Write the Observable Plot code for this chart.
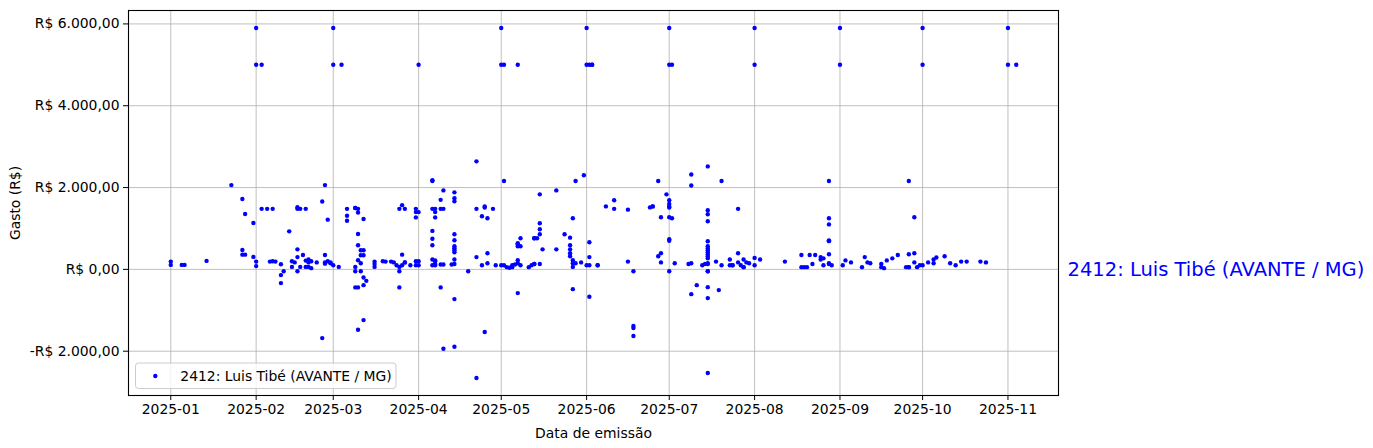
<!DOCTYPE html>
<html>
<head>
<meta charset="utf-8">
<script src="https://cdn.jsdelivr.net/npm/d3@7"></script>
<script src="https://cdn.jsdelivr.net/npm/@observablehq/plot@0.6"></script>
<style>
  html, body { margin: 0; padding: 0; background: white; }
  #chart { width: 1373px; height: 448px; }
</style>
</head>
<body>
<div id="chart"></div>
<script>
// ---- Data ----
const seriesLabel = "2412: Luis Tibé (AVANTE / MG)";
const xTitle = "Data de emissão";
const yTitle = "Gasto (R$)";
const yTickValues = [-2000, 0, 2000, 4000, 6000];
const xTickMonths = ["2025-01","2025-02","2025-03","2025-04","2025-05","2025-06","2025-07","2025-08","2025-09","2025-10","2025-11"];

// emission days (2025-MM-DD) and the amounts issued on each day
const emissionDays = [
  "01-01","01-05","01-06","01-14","01-23","01-27","01-28","01-31",
  "02-01","02-03","02-05","02-06","02-07","02-08","02-10","02-11","02-13","02-14","02-15","02-16","02-17","02-18","02-19","02-20","02-21","02-23","02-25","02-26","02-27","02-28",
  "03-01","03-03","03-04","03-06","03-09","03-10","03-11","03-12","03-13","03-16","03-19","03-20","03-22","03-23","03-24","03-25","03-26","03-27","03-29","03-31",
  "04-01","04-06","04-07","04-09","04-10","04-13","04-14","04-19","04-22","04-24","04-25","04-26","04-28","04-29",
  "05-01","05-02","05-03","05-04","05-05","05-06","05-07","05-08","05-11","05-12","05-13","05-14","05-15","05-16","05-21","05-24","05-26","05-27","05-28","05-30","05-31",
  "06-01","06-02","06-03","06-05","06-08","06-11","06-16","06-18","06-24","06-25","06-27","06-28","06-30",
  "07-01","07-02","07-03","07-08","07-09","07-11","07-13","07-14","07-15","07-18","07-19","07-20","07-23","07-24","07-26","07-27","07-28","07-29","07-30",
  "08-01","08-03","08-12","08-18","08-19","08-20","08-21","08-22","08-23","08-25","08-26","08-28","08-29",
  "09-01","09-02","09-03","09-05","09-09","09-10","09-11","09-12","09-16","09-17","09-18","09-20","09-22","09-25","09-26","09-28","09-29","09-30",
  "10-01","10-03","10-05","10-06","10-09","10-11","10-13","10-15","10-17","10-22","10-24",
  "11-01","11-04"
];
const dailyAmounts = [
  [190,110],[110],[110],[207],[2060],[1720,475,360],[1355,360],[1135,305],
  [5900,5000,190,80],[5000,1480],[1480],[190],[1480,200],[190],[-140,-335,125],[-45],[930],[200,60],[170],[490,300,-45,1480,1520],[1480,60],[350],[1480,215,60],[240,60,170],[200,30],[170],[1660,-1680],[2060,170,140,350],[1215,200],[170,150],
  [5900,5000,100],[60],[5000],[1480,1310,1190],[1500,1500,60,-440,-45],[1480,1390,866,590,224,-440,-1475],[468,346,150,-45],[468,346,1230,-200,-386,-1240],[-280],[190,60,130],[200],[190],[190],[170],[100],[60,-45,1480,-440],[100,1570,360],[170,170,1480],[100],[200,100,1480,1400,1270],
  [5000,1400,200,100],[940,750,590,1480,2160,2180,240,100],[1400,1270,220,200,100,130,1480],[1480,1700,120,-440],[1480,1930,120,-1940],[120],[130,240,420,517,566,468,712,858,1663,1737,1883,-727,-1890],[-45],[2640,1480,300,-2655],[100,1300],[1510,1540,-1530],[1250,395,150],[1480],[100],
  [5900,5000,100],[5000,100,2160],[55],[40],[55,100],[120],[614,566,150,638,224,5000,-580],[566,100,760],[55],[100],[130,760,130,760],[760],[130,858,980,1127,1834],[490],[1930,490],[858],[776,590,490,395,322],[224,150,-483,1250,60],[2160,150],[170],[2300],
  [5900,5000,100],[5000,663,300,100,-670],[5000,5000],[100,100],[1540],[1690,1480],[1460,190],[-45,-1385,-1434,-1630],[1515],[1540,1540],[2160,322],[1273,395,170],[1834],
  [5900,5000,1690,1600,1540,1510,1273,736,700,-45],[5000,1250],[150],[130],[150,2320,2050,-605],[-386],[100],[130],[2517,1444,1346,1176,688,566,517,468,420,371,322,273,130,-45,-434,-702,-2532,-45,150],[190],[-507],[100,2160],[240,100],[100,100],[395,170,1480],[100],[55,240,55],[170],[150],
  [5900,5000,280,100],[240],[190],[350,55],[55],[55],[350],[130],[350],[300,240],[100,270],[2160,1250,1100,710,690,370,150,130],[100],
  [5900,5000],[100],[220],[170],[55],[300],[170],[150],[130,55],[30],[220],[270],[350],[55],[55,55,370,2160],[1273,395,170],[55],[100],
  [100,5900,5000],[170],[150,240],[290],[320],[150],[100],[190],[190],[190],[170],
  [5900,5000],[5000]
];

// ---- Build table ----
const points = emissionDays.flatMap((d, i) =>
  dailyAmounts[i].map(v => ({ date: new Date(`2025-${d}T00:00:00Z`), gasto: v }))
);

// matplotlib-like 5% autoscale margins
const pad = (ext) => { const m = (ext[1] - ext[0]) * 0.05; return [ext[0] - m, ext[1] + m]; };
const xExt = d3.extent(points, d => +d.date);
const xDom = pad(xExt).map(t => new Date(t));
const yDom = pad(d3.extent(points, d => d.gasto));

const brl = (v) => {
  const s = Math.abs(v).toFixed(2).split(".");
  const intPart = s[0].replace(/\B(?=(\d{3})+(?!\d))/g, ".");
  return (v < 0 ? "-" : "") + "R$ " + intPart + "," + s[1];
};

const font = "DejaVu Sans, sans-serif";

const chart = Plot.plot({
  width: 1373,
  height: 448,
  marginTop: 10,
  marginBottom: 53,
  marginLeft: 128,
  marginRight: 315,
  style: { fontFamily: font, fontSize: "13.9px", color: "black", background: "white", overflow: "visible" },
  x: {
    type: "utc",
    domain: xDom,
    ticks: xTickMonths.map(m => new Date(m + "-01T00:00:00Z")),
    tickFormat: d3.utcFormat("%Y-%m"),
    tickSize: 5,
    tickPadding: 4,
    label: xTitle,
    labelAnchor: "center",
    labelArrow: "none",
    labelOffset: 42
  },
  y: {
    domain: yDom,
    ticks: yTickValues,
    tickFormat: brl,
    tickSize: 5,
    tickPadding: 4,
    label: yTitle,
    labelAnchor: "center",
    labelArrow: "none",
    labelOffset: 118
  },
  marks: [
    Plot.gridX(xTickMonths.map(m => new Date(m + "-01T00:00:00Z")), { stroke: "#b0b0b0", strokeOpacity: 1, strokeWidth: 0.8 }),
    Plot.gridY(yTickValues, { stroke: "#b0b0b0", strokeOpacity: 1, strokeWidth: 0.8 }),
    Plot.dot(points, { x: "date", y: "gasto", r: 2.2, fill: "blue", stroke: "none" }),
    Plot.frame({ stroke: "black", strokeWidth: 1.1 }),
    Plot.text([seriesLabel], { text: d => d, frameAnchor: "right", y: () => 0, dx: 9, textAnchor: "start", fill: "blue", fontSize: 19.5, fontFamily: font })
  ]
});

document.getElementById("chart").appendChild(chart);

// ---- Legend box (inside the axes, lower-left) ----
const svg = d3.select(chart);
const lg = svg.append("g").attr("font-family", font).attr("font-size", "13.9px").attr("text-anchor", "start");
lg.append("rect")
  .attr("x", 135.5).attr("y", 363).attr("width", 260.5).attr("height", 25.5)
  .attr("rx", 3).attr("fill", "white").attr("fill-opacity", 0.8)
  .attr("stroke", "#cccccc").attr("stroke-width", 1);
lg.append("circle").attr("cx", 155.3).attr("cy", 376).attr("r", 2.2).attr("fill", "blue");
lg.append("text").attr("x", 180.3).attr("y", 376).attr("dy", "0.35em").attr("text-anchor", "start").attr("fill", "black").text(seriesLabel);
</script>
</body>
</html>
